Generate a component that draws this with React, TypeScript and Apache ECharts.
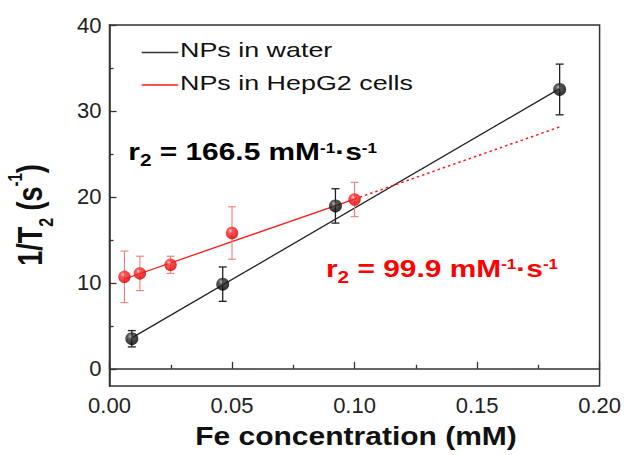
import React, { useEffect, useRef } from 'react';
import * as echarts from 'echarts';

// ---- data ----
const waterX = [0.0091, 0.0462, 0.0922, 0.1837];
const waterY = [3.5, 9.85, 18.95, 32.5];
const waterErr = [0.95, 2.0, 2.0, 2.95];

const cellX = [0.0061, 0.0124, 0.0249, 0.05, 0.1];
const cellY = [10.7, 11.1, 12.1, 15.8, 19.7];
const cellErr = [3.0, 2.0, 1.0, 3.05, 2.0];

const waterFitX = [0.0091, 0.1837];
const waterFitY = [3.6, 32.6];
const cellFitX = [0.0061, 0.1];
const cellFitY = [10.45, 19.75];
const cellExtX = [0.1, 0.1838];
const cellExtY = [19.75, 28.15];

const xTicks = [0, 0.05, 0.1, 0.15, 0.2];
const yTicks = [0, 10, 20, 30, 40];
const yMinorTicks = [5, 15, 25, 35];

const legendNames = ['NPs in water', 'NPs in HepG2 cells'];
const xName = 'Fe concentration (mM)';
const r2Water = '166.5';
const r2Cell = '99.9';

const FONT = '"Liberation Sans", Arial, Helvetica, sans-serif';
const AXIS = '#333';

const zip = (xs: number[], ys: number[], es?: number[]) =>
  xs.map((x, i) => (es ? [x, ys[i], es[i]] : [x, ys[i]]));

const errorBar = (color: string, half: number, width: number) => (params: any, api: any) => {
  const x = api.value(0);
  const y = api.value(1);
  const e = api.value(2);
  const top = api.coord([x, y + e]);
  const bot = api.coord([x, y - e]);
  const style = { stroke: color, lineWidth: width };
  return {
    type: 'group',
    children: [
      { type: 'line', shape: { x1: top[0], y1: top[1], x2: bot[0], y2: bot[1] }, style },
      { type: 'line', shape: { x1: top[0] - half, y1: top[1], x2: top[0] + half, y2: top[1] }, style },
      { type: 'line', shape: { x1: bot[0] - half, y1: bot[1], x2: bot[0] + half, y2: bot[1] }, style },
    ],
  };
};

const r2Rich = (color: string) => ({
  m: { fontSize: 24.5, fontWeight: 'bold', fontFamily: FONT, fill: color, lineHeight: 44 },
  sub: { fontSize: 17, fontWeight: 'bold', fontFamily: FONT, fill: color, padding: [18, 0, 0, 0] },
  sup: { fontSize: 14, fontWeight: 'bold', fontFamily: FONT, fill: color, padding: [0, 0, 7, 0] },
});

export default function App() {
  const ref = useRef<HTMLDivElement>(null);
  useEffect(() => {
    const chart = echarts.init(ref.current!, null, { renderer: 'svg' });

    const blackBall = new echarts.graphic.RadialGradient(0.38, 0.32, 0.65, [
      { offset: 0, color: '#a0a0a0' },
      { offset: 0.3, color: '#303030' },
      { offset: 1, color: '#000000' },
    ]);
    const redBall = new echarts.graphic.RadialGradient(0.38, 0.32, 0.65, [
      { offset: 0, color: '#ffc8c8' },
      { offset: 0.3, color: '#ff2a2a' },
      { offset: 1, color: '#d40000' },
    ]);

    const option: any = {
      animation: false,
      backgroundColor: '#ffffff',
      grid: {
        left: 109.5,
        right: 21.5,
        top: 25,
        bottom: 69,
        show: true,
        borderColor: AXIS,
        borderWidth: 1.5,
        backgroundColor: 'transparent',
      },
      xAxis: {
        type: 'value',
        min: 0,
        max: 0.2,
        interval: 0.05,
        axisLine: { lineStyle: { color: AXIS, width: 1.5 } },
        axisTick: { inside: true, length: 7, lineStyle: { color: AXIS, width: 1.3 } },
        minorTick: { show: true, splitNumber: 2, length: 4, lineStyle: { color: AXIS, width: 1.3 } },
        axisLabel: {
          fontSize: 22,
          fontFamily: FONT,
          color: '#222',
          margin: 8,
          customValues: xTicks,
          formatter: (v: number) => v.toFixed(2),
        },
        splitLine: { show: false },
      },
      yAxis: [
        {
          type: 'value',
          position: 'left',
          min: -2,
          max: 40,
          axisLine: { show: true, lineStyle: { color: AXIS, width: 1.5 } },
          axisTick: { show: true, inside: true, length: 7, customValues: yTicks, lineStyle: { color: AXIS, width: 1.3 } },
          axisLabel: { fontSize: 22, fontFamily: FONT, color: '#222', margin: 8, customValues: yTicks },
          splitLine: { show: false },
        },
        {
          type: 'value',
          position: 'left',
          min: -2,
          max: 40,
          axisLine: { show: false },
          axisTick: { show: true, inside: true, length: 4, customValues: yMinorTicks, lineStyle: { color: AXIS, width: 1.3 } },
          axisLabel: { show: false },
          splitLine: { show: false },
        },
      ],
      series: [
        {
          type: 'line',
          name: legendNames[0],
          data: zip(waterFitX, waterFitY),
          symbol: 'none',
          lineStyle: { color: '#222', width: 1.3 },
          z: 2,
        },
        {
          type: 'line',
          name: legendNames[1],
          data: zip(cellFitX, cellFitY),
          symbol: 'none',
          lineStyle: { color: '#ff1a1a', width: 1.3 },
          z: 2,
        },
        {
          type: 'line',
          name: 'extrapolation',
          data: zip(cellExtX, cellExtY),
          symbol: 'none',
          lineStyle: { color: '#ff1a1a', width: 1.5, type: [2.5, 3] },
          z: 2,
        },
        {
          type: 'custom',
          name: 'cell error',
          renderItem: errorBar('#f47c7c', 4, 1.1),
          data: zip(cellX, cellY, cellErr),
          encode: { x: 0, y: 1 },
          z: 3,
        },
        {
          type: 'custom',
          name: 'water error',
          renderItem: errorBar('#222', 4, 1.3),
          data: zip(waterX, waterY, waterErr),
          encode: { x: 0, y: 1 },
          z: 3,
        },
        {
          type: 'scatter',
          name: legendNames[1] + ' points',
          data: zip(cellX, cellY),
          symbol: 'circle',
          symbolSize: 12.5,
          itemStyle: { color: redBall },
          z: 4,
        },
        {
          type: 'scatter',
          name: legendNames[0] + ' points',
          data: zip(waterX, waterY),
          symbol: 'circle',
          symbolSize: 13,
          itemStyle: { color: blackBall },
          z: 4,
        },
      ],
      graphic: [
        { type: 'line', shape: { x1: 141.7, y1: 52.5, x2: 178.3, y2: 52.5 }, style: { stroke: '#333', lineWidth: 1.3 } },
        {
          type: 'text', x: 180, y: 50, scaleX: 1.28,
          style: { text: legendNames[0], font: `21px ${FONT}`, fill: '#111', align: 'left', verticalAlign: 'middle' },
        },
        { type: 'line', shape: { x1: 141.7, y1: 85, x2: 178.3, y2: 85 }, style: { stroke: '#ff1a1a', lineWidth: 1.3 } },
        {
          type: 'text', x: 180, y: 82.5, scaleX: 1.28,
          style: { text: legendNames[1], font: `21px ${FONT}`, fill: '#111', align: 'left', verticalAlign: 'middle' },
        },
        {
          type: 'text', x: 128.3, y: 151.2, scaleX: 1.22,
          style: {
            text: `{m|r}{sub|2}{m| = ${r2Water} mM}{sup|-1}{m|·s}{sup|-1}`,
            rich: r2Rich('#000'),
            align: 'left',
            verticalAlign: 'middle',
          },
        },
        {
          type: 'text', x: 326, y: 268, scaleX: 1.22,
          style: {
            text: `{m|r}{sub|2}{m| = ${r2Cell} mM}{sup|-1}{m|·s}{sup|-1}`,
            rich: r2Rich('#ff0000'),
            align: 'left',
            verticalAlign: 'middle',
          },
        },
        {
          type: 'text', x: 356, y: 436.3, scaleX: 1.2,
          style: { text: xName, font: `bold 25px ${FONT}`, fill: '#111', align: 'center', verticalAlign: 'middle' },
        },
        {
          type: 'text', x: 30.5, y: 215, rotation: Math.PI / 2, scaleY: 1.3,
          style: {
            text: '{m|1/T}{sub|2}{m| (s}{sup|-1}{m|)}',
            rich: {
              m: { fontSize: 27, fontWeight: 'bold', fontFamily: FONT, fill: '#111', lineHeight: 50 },
              sub: { fontSize: 16, fontWeight: 'bold', fontFamily: FONT, fill: '#111', padding: [24, 0, 0, 0] },
              sup: { fontSize: 15, fontWeight: 'bold', fontFamily: FONT, fill: '#111', padding: [0, 0, 24, 0] },
            },
            align: 'center',
            verticalAlign: 'middle',
          },
        },
      ],
    };

    chart.setOption(option);
    return () => chart.dispose();
  }, []);

  return <div ref={ref} style={{ position: 'absolute', left: 0, top: 0, width: 624, height: 455 }} />;
}
